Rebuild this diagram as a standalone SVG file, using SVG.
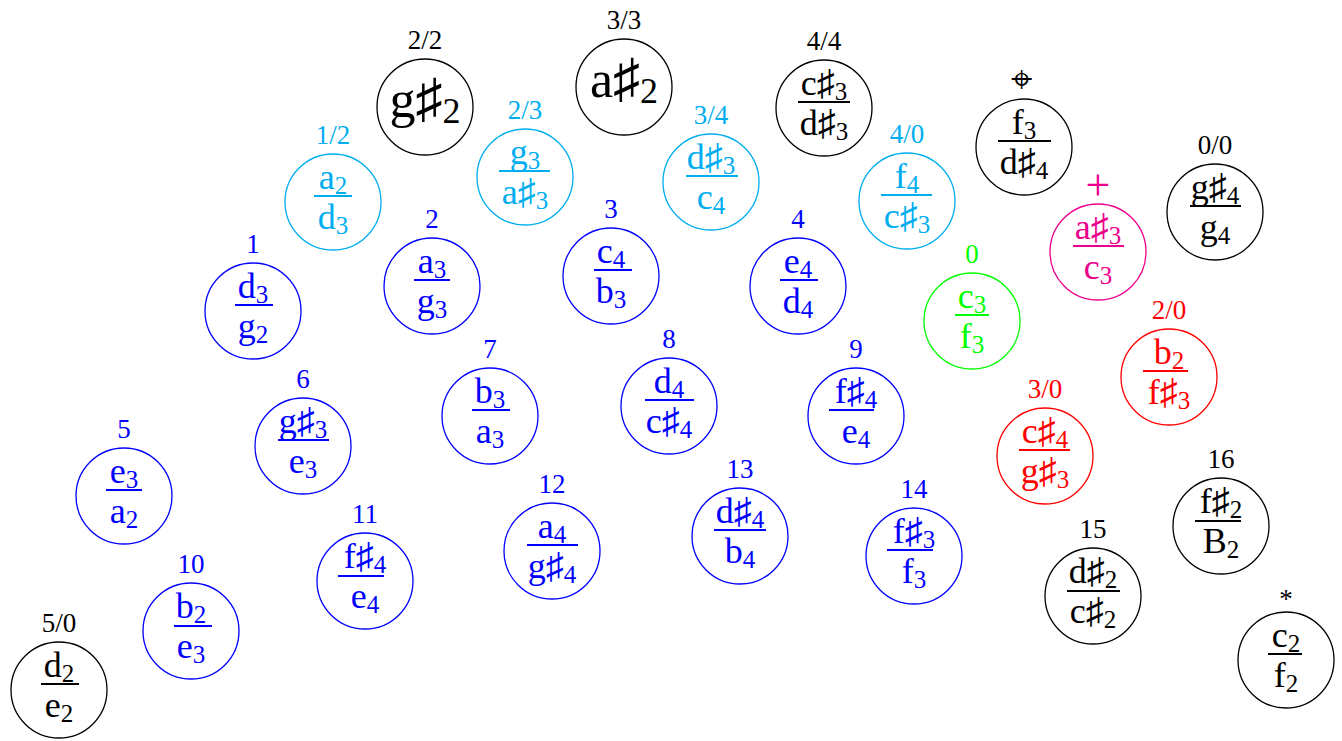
<svg xmlns="http://www.w3.org/2000/svg" width="1342" height="741" viewBox="0 0 1342 741">
<style>
text { stroke: none; text-anchor: middle; font-family: 'Liberation Serif', serif; }
circle { fill: none; stroke-width: 1.3; }
line { stroke-width: 1.8; }
.lbl { font-size: 27px; }
.n { font-size: 36px; }
.big { font-size: 52px; }
.s { font-size: 25px; }
.bs { font-size: 36px; }
.sh { font-size: 36px; }
.bsh { font-size: 54px; }
.pos { font-family: 'DejaVu Sans', sans-serif; font-size: 38px; }
.plus { font-size: 44px; }
.k { fill: #000; stroke: #000; }
.b { fill: #0000ff; stroke: #0000ff; }
.c { fill: #00adef; stroke: #00adef; }
.m { fill: #ec008c; stroke: #ec008c; }
.g { fill: #00ff00; stroke: #00ff00; }
.r { fill: #ff0000; stroke: #ff0000; }
</style>
<rect width="1342" height="741" fill="#fff"/>
<g id="connectors"/>

<g id="n-2-2" class="k"><circle cx="425" cy="107" r="48"/><text class="lbl" x="425" y="49">2/2</text><text class="big" x="425" y="117">g<tspan class="bsh">♯</tspan><tspan class="bs" dy="6">2</tspan></text></g>
<g id="n-3-3" class="k"><circle cx="624" cy="87" r="48"/><text class="lbl" x="624" y="29">3/3</text><text class="big" x="624" y="97">a<tspan class="bsh">♯</tspan><tspan class="bs" dy="6">2</tspan></text></g>
<g id="n-4-4" class="k"><circle cx="824" cy="108" r="48"/><text class="lbl" x="824" y="50">4/4</text><text class="n" x="824" y="95">c<tspan class="sh">♯</tspan><tspan class="s" dy="5">3</tspan></text><line x1="798" y1="102" x2="850" y2="102"/><text class="n" x="824" y="135">d<tspan class="sh">♯</tspan><tspan class="s" dy="5">3</tspan></text></g>
<g id="n-pos" class="k"><circle cx="1024" cy="147" r="48"/><text class="pos" x="1021" y="92">⌖</text><text class="n" x="1024" y="134">f<tspan class="s" dy="5">3</tspan></text><line x1="998" y1="141" x2="1051" y2="141"/><text class="n" x="1024" y="174">d<tspan class="sh">♯</tspan><tspan class="s" dy="5">4</tspan></text></g>
<g id="n-0-0" class="k"><circle cx="1215" cy="212" r="48"/><text class="lbl" x="1215" y="154">0/0</text><text class="n" x="1215" y="199">g<tspan class="sh">♯</tspan><tspan class="s" dy="5">4</tspan></text><line x1="1190" y1="206" x2="1241" y2="206"/><text class="n" x="1215" y="239">g<tspan class="s" dy="5">4</tspan></text></g>

<g id="n-1-2" class="c"><circle cx="333" cy="202" r="48"/><text class="lbl" x="333" y="144">1/2</text><text class="n" x="333" y="189">a<tspan class="s" dy="5">2</tspan></text><line x1="314" y1="196" x2="352" y2="196"/><text class="n" x="333" y="229">d<tspan class="s" dy="5">3</tspan></text></g>
<g id="n-2-3" class="c"><circle cx="525" cy="177" r="48"/><text class="lbl" x="525" y="119">2/3</text><text class="n" x="525" y="164">g<tspan class="s" dy="5">3</tspan></text><line x1="499" y1="171" x2="550" y2="171"/><text class="n" x="525" y="204">a<tspan class="sh">♯</tspan><tspan class="s" dy="5">3</tspan></text></g>
<g id="n-3-4" class="c"><circle cx="711" cy="182" r="48"/><text class="lbl" x="711" y="124">3/4</text><text class="n" x="711" y="169">d<tspan class="sh">♯</tspan><tspan class="s" dy="5">3</tspan></text><line x1="686" y1="176" x2="738" y2="176"/><text class="n" x="711" y="209">c<tspan class="s" dy="5">4</tspan></text></g>
<g id="n-4-0" class="c"><circle cx="907" cy="201" r="48"/><text class="lbl" x="907" y="143">4/0</text><text class="n" x="907" y="188">f<tspan class="s" dy="5">4</tspan></text><line x1="881" y1="195" x2="932" y2="195"/><text class="n" x="907" y="228">c<tspan class="sh">♯</tspan><tspan class="s" dy="5">3</tspan></text></g>

<g id="n-plus" class="m"><circle cx="1098" cy="252" r="48"/><text class="plus" x="1098" y="200">+</text><text class="n" x="1098" y="239">a<tspan class="sh">♯</tspan><tspan class="s" dy="5">3</tspan></text><line x1="1073" y1="246" x2="1124" y2="246"/><text class="n" x="1098" y="279">c<tspan class="s" dy="5">3</tspan></text></g>
<g id="n-0" class="g"><circle cx="972" cy="321" r="48"/><text class="lbl" x="972" y="263">0</text><text class="n" x="972" y="308">c<tspan class="s" dy="5">3</tspan></text><line x1="955" y1="315" x2="989" y2="315"/><text class="n" x="972" y="348">f<tspan class="s" dy="5">3</tspan></text></g>
<g id="n-2-0" class="r"><circle cx="1169" cy="377" r="48"/><text class="lbl" x="1169" y="319">2/0</text><text class="n" x="1169" y="364">b<tspan class="s" dy="5">2</tspan></text><line x1="1143" y1="371" x2="1188" y2="371"/><text class="n" x="1169" y="404">f<tspan class="sh">♯</tspan><tspan class="s" dy="5">3</tspan></text></g>
<g id="n-3-0" class="r"><circle cx="1045" cy="456" r="48"/><text class="lbl" x="1045" y="398">3/0</text><text class="n" x="1045" y="443">c<tspan class="sh">♯</tspan><tspan class="s" dy="5">4</tspan></text><line x1="1019" y1="450" x2="1070" y2="450"/><text class="n" x="1045" y="483">g<tspan class="sh">♯</tspan><tspan class="s" dy="5">3</tspan></text></g>

<g id="n1" class="b"><circle cx="253" cy="311" r="48"/><text class="lbl" x="253" y="253">1</text><text class="n" x="253" y="298">d<tspan class="s" dy="5">3</tspan></text><line x1="235" y1="305" x2="273" y2="305"/><text class="n" x="253" y="338">g<tspan class="s" dy="5">2</tspan></text></g>
<g id="n2" class="b"><circle cx="432" cy="286" r="48"/><text class="lbl" x="432" y="228">2</text><text class="n" x="432" y="273">a<tspan class="s" dy="5">3</tspan></text><line x1="414" y1="280" x2="450" y2="280"/><text class="n" x="432" y="313">g<tspan class="s" dy="5">3</tspan></text></g>
<g id="n3" class="b"><circle cx="611" cy="276" r="48"/><text class="lbl" x="611" y="218">3</text><text class="n" x="611" y="263">c<tspan class="s" dy="5">4</tspan></text><line x1="594" y1="270" x2="632" y2="270"/><text class="n" x="611" y="303">b<tspan class="s" dy="5">3</tspan></text></g>
<g id="n4" class="b"><circle cx="798" cy="286" r="48"/><text class="lbl" x="798" y="228">4</text><text class="n" x="798" y="273">e<tspan class="s" dy="5">4</tspan></text><line x1="780" y1="280" x2="818" y2="280"/><text class="n" x="798" y="313">d<tspan class="s" dy="5">4</tspan></text></g>
<g id="n5" class="b"><circle cx="124" cy="496" r="48"/><text class="lbl" x="124" y="438">5</text><text class="n" x="124" y="483">e<tspan class="s" dy="5">3</tspan></text><line x1="106" y1="490" x2="142" y2="490"/><text class="n" x="124" y="523">a<tspan class="s" dy="5">2</tspan></text></g>
<g id="n6" class="b"><circle cx="303" cy="446" r="48"/><text class="lbl" x="303" y="388">6</text><text class="n" x="303" y="433">g<tspan class="sh">♯</tspan><tspan class="s" dy="5">3</tspan></text><line x1="278" y1="440" x2="329" y2="440"/><text class="n" x="303" y="473">e<tspan class="s" dy="5">3</tspan></text></g>
<g id="n7" class="b"><circle cx="490" cy="416" r="48"/><text class="lbl" x="490" y="358">7</text><text class="n" x="490" y="403">b<tspan class="s" dy="5">3</tspan></text><line x1="472" y1="410" x2="510" y2="410"/><text class="n" x="490" y="443">a<tspan class="s" dy="5">3</tspan></text></g>
<g id="n8" class="b"><circle cx="669" cy="406" r="48"/><text class="lbl" x="669" y="348">8</text><text class="n" x="669" y="393">d<tspan class="s" dy="5">4</tspan></text><line x1="645" y1="400" x2="694" y2="400"/><text class="n" x="669" y="433">c<tspan class="sh">♯</tspan><tspan class="s" dy="5">4</tspan></text></g>
<g id="n9" class="b"><circle cx="856" cy="416" r="48"/><text class="lbl" x="856" y="358">9</text><text class="n" x="856" y="403">f<tspan class="sh">♯</tspan><tspan class="s" dy="5">4</tspan></text><line x1="829" y1="410" x2="874" y2="410"/><text class="n" x="856" y="443">e<tspan class="s" dy="5">4</tspan></text></g>
<g id="n10" class="b"><circle cx="191" cy="631" r="48"/><text class="lbl" x="191" y="573">10</text><text class="n" x="191" y="618">b<tspan class="s" dy="5">2</tspan></text><line x1="174" y1="626" x2="212" y2="626"/><text class="n" x="191" y="658">e<tspan class="s" dy="5">3</tspan></text></g>
<g id="n11" class="b"><circle cx="365" cy="581" r="48"/><text class="lbl" x="365" y="523">11</text><text class="n" x="365" y="568">f<tspan class="sh">♯</tspan><tspan class="s" dy="5">4</tspan></text><line x1="338" y1="576" x2="384" y2="576"/><text class="n" x="365" y="608">e<tspan class="s" dy="5">4</tspan></text></g>
<g id="n12" class="b"><circle cx="552" cy="551" r="48"/><text class="lbl" x="552" y="493">12</text><text class="n" x="552" y="538">a<tspan class="s" dy="5">4</tspan></text><line x1="527" y1="545" x2="578" y2="545"/><text class="n" x="552" y="578">g<tspan class="sh">♯</tspan><tspan class="s" dy="5">4</tspan></text></g>
<g id="n13" class="b"><circle cx="740" cy="536" r="48"/><text class="lbl" x="740" y="478">13</text><text class="n" x="740" y="523">d<tspan class="sh">♯</tspan><tspan class="s" dy="5">4</tspan></text><line x1="714" y1="530" x2="766" y2="530"/><text class="n" x="740" y="563">b<tspan class="s" dy="5">4</tspan></text></g>
<g id="n14" class="b"><circle cx="914" cy="556" r="48"/><text class="lbl" x="914" y="498">14</text><text class="n" x="914" y="543">f<tspan class="sh">♯</tspan><tspan class="s" dy="5">3</tspan></text><line x1="887" y1="550" x2="933" y2="550"/><text class="n" x="914" y="583">f<tspan class="s" dy="5">3</tspan></text></g>

<g id="n15" class="k"><circle cx="1093" cy="596" r="48"/><text class="lbl" x="1093" y="538">15</text><text class="n" x="1093" y="583">d<tspan class="sh">♯</tspan><tspan class="s" dy="5">2</tspan></text><line x1="1067" y1="591" x2="1120" y2="591"/><text class="n" x="1093" y="623">c<tspan class="sh">♯</tspan><tspan class="s" dy="5">2</tspan></text></g>
<g id="n16" class="k"><circle cx="1221" cy="526" r="48"/><text class="lbl" x="1221" y="468">16</text><text class="n" x="1221" y="513">f<tspan class="sh">♯</tspan><tspan class="s" dy="5">2</tspan></text><line x1="1195" y1="521" x2="1241" y2="521"/><text class="n" x="1221" y="553">B<tspan class="s" dy="5">2</tspan></text></g>
<g id="n-star" class="k"><circle cx="1286" cy="660" r="48"/><text class="lbl" x="1286" y="608">*</text><text class="n" x="1286" y="647">c<tspan class="s" dy="5">2</tspan></text><line x1="1268" y1="654" x2="1302" y2="654"/><text class="n" x="1286" y="687">f<tspan class="s" dy="5">2</tspan></text></g>
<g id="n-5-0" class="k"><circle cx="59" cy="690" r="48"/><text class="lbl" x="59" y="632">5/0</text><text class="n" x="59" y="677">d<tspan class="s" dy="5">2</tspan></text><line x1="41" y1="684" x2="79" y2="684"/><text class="n" x="59" y="717">e<tspan class="s" dy="5">2</tspan></text></g>
</svg>
